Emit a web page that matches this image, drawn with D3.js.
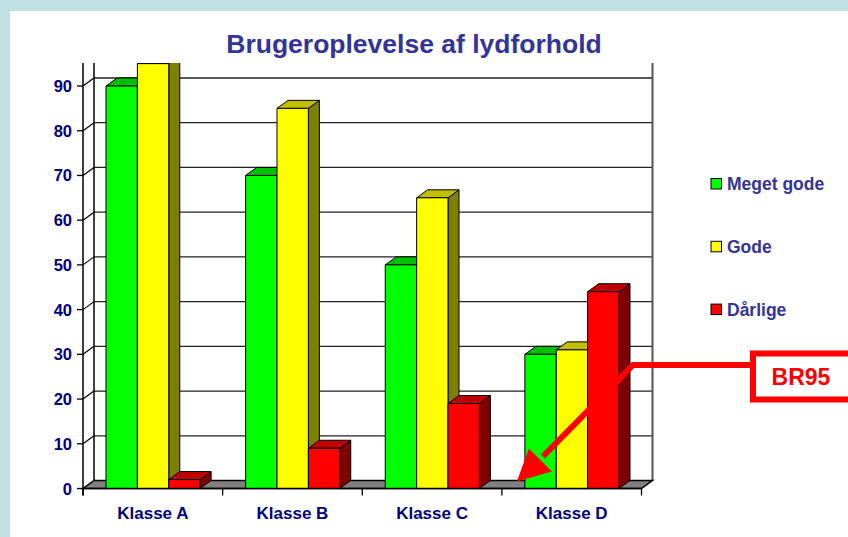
<!DOCTYPE html>
<html>
<head>
<meta charset="utf-8">
<script src="https://cdn.jsdelivr.net/npm/d3@7"></script>
<style>
  body { margin: 0; background: #bfe1e4; }
  svg { display: block; font-family: "Liberation Sans", Arial, sans-serif; font-weight: bold; }
</style>
</head>
<body>
<svg id="chart" width="848" height="537"></svg>
<script>
var classes = ["Klasse A", "Klasse B", "Klasse C", "Klasse D"];
var series = ["Meget gode", "Gode", "Dårlige"];
var megetGode = [90, 70, 50, 30];
var gode = [95, 85, 65, 31];
var daarlige = [2, 9, 19, 44];
var yTicks = [0, 10, 20, 30, 40, 50, 60, 70, 80, 90];

var colors = [
  {front: "#00ff00", top: "#00c000", side: "#008000"},
  {front: "#ffff00", top: "#c0c000", side: "#808000"},
  {front: "#ff0000", top: "#c00000", side: "#800000"}
];
var values = [megetGode, gode, daarlige];

var svg = d3.select("#chart"),
    plotTop = 63,
    depth = {dx: 11, dy: 8};

// white panel
svg.append("rect")
    .attr("x", 10).attr("y", 11)
    .attr("width", 848).attr("height", 537)
    .attr("fill", "#fff");

var y = d3.scaleLinear()
    .domain([0, 90])
    .range([488.5, 86]);

var x0 = d3.scaleBand()
    .domain(classes)
    .range([83, 641.5]);

var x1 = d3.scaleBand()
    .domain(series)
    .range([23, x0.bandwidth() - 22.5]);

var y0 = y(0), xl = x0.range()[0], xr = x0.range()[1];

svg.append("defs").append("clipPath")
    .attr("id", "plotClip")
  .append("rect")
    .attr("x", 0).attr("y", plotTop)
    .attr("width", 848).attr("height", 537 - plotTop);

var plot = svg.append("g").attr("clip-path", "url(#plotClip)");

// back wall grid
plot.selectAll(".grid")
  .data(yTicks.slice(1))
  .enter().append("line")
    .attr("x1", xl + depth.dx)
    .attr("x2", xr + depth.dx)
    .attr("y1", function(d) { return y(d) - depth.dy; })
    .attr("y2", function(d) { return y(d) - depth.dy; })
    .attr("stroke", "#222")
    .attr("stroke-width", 1.3);

// left wall diagonals
plot.selectAll(".diag")
  .data(yTicks.slice(1))
  .enter().append("line")
    .attr("x1", xl)
    .attr("x2", xl + depth.dx)
    .attr("y1", function(d) { return y(d); })
    .attr("y2", function(d) { return y(d) - depth.dy; })
    .attr("stroke", "#000")
    .attr("stroke-width", 1.2);

// wall edges
plot.append("line")
    .attr("x1", xl + depth.dx).attr("x2", xl + depth.dx)
    .attr("y1", 0).attr("y2", y0 - depth.dy)
    .attr("stroke", "#000").attr("stroke-width", 1.5);
plot.append("line")
    .attr("x1", xr + depth.dx).attr("x2", xr + depth.dx)
    .attr("y1", 0).attr("y2", y0 - depth.dy)
    .attr("stroke", "#555").attr("stroke-width", 2);

// floor
plot.append("polygon")
    .attr("points", [[xl, y0], [xr, y0], [xr + depth.dx, y0 - depth.dy], [xl + depth.dx, y0 - depth.dy]].join(" "))
    .attr("fill", "#808080")
    .attr("stroke", "#000")
    .attr("stroke-width", 1.5);

// bars, drawn left to right so each front face hides the previous side face
classes.forEach(function(c, i) {
  series.forEach(function(s, j) {
    var bx = x0(c) + x1(s), bw = x1.bandwidth(), by = y(values[j][i]);
    var g = plot.append("g")
        .attr("stroke", "#000")
        .attr("stroke-width", 1)
        .attr("stroke-linejoin", "round");
    g.append("polygon")
        .attr("points", [[bx + bw, by], [bx + bw + depth.dx, by - depth.dy], [bx + bw + depth.dx, y0 - depth.dy], [bx + bw, y0]].join(" "))
        .attr("fill", colors[j].side);
    g.append("polygon")
        .attr("points", [[bx, by], [bx + depth.dx, by - depth.dy], [bx + bw + depth.dx, by - depth.dy], [bx + bw, by]].join(" "))
        .attr("fill", colors[j].top);
    g.append("rect")
        .attr("x", bx).attr("y", by)
        .attr("width", bw).attr("height", y0 - by)
        .attr("fill", colors[j].front);
  });
});

// front y axis
svg.append("line")
    .attr("x1", xl).attr("x2", xl)
    .attr("y1", plotTop).attr("y2", y0 + 7)
    .attr("stroke", "#000").attr("stroke-width", 1.5);

svg.selectAll(".ytick")
  .data(yTicks)
  .enter().append("line")
    .attr("x1", xl - 6).attr("x2", xl)
    .attr("y1", function(d) { return y(d); })
    .attr("y2", function(d) { return y(d); })
    .attr("stroke", "#000").attr("stroke-width", 1.3);

svg.selectAll(".ylabel")
  .data(yTicks)
  .enter().append("text")
    .attr("x", 72)
    .attr("y", function(d) { return y(d) + 6; })
    .attr("text-anchor", "end")
    .attr("fill", "#000080")
    .attr("font-size", "16.5px")
    .text(function(d) { return d; });

// category axis
svg.append("line")
    .attr("x1", xl).attr("x2", xr)
    .attr("y1", y0).attr("y2", y0)
    .attr("stroke", "#000").attr("stroke-width", 1.5);

svg.selectAll(".xtick")
  .data(classes.map(function(c) { return x0(c); }).concat([xr]))
  .enter().append("line")
    .attr("x1", function(d) { return d; })
    .attr("x2", function(d) { return d; })
    .attr("y1", y0).attr("y2", y0 + 7)
    .attr("stroke", "#000").attr("stroke-width", 1.3);

svg.selectAll(".xlabel")
  .data(classes)
  .enter().append("text")
    .attr("x", function(d) { return x0(d) + x0.bandwidth() / 2; })
    .attr("y", 519)
    .attr("text-anchor", "middle")
    .attr("fill", "#000080")
    .attr("font-size", "17px")
    .text(function(d) { return d; });

// title
svg.append("text")
    .attr("x", 414)
    .attr("y", 53)
    .attr("text-anchor", "middle")
    .attr("fill", "#333399")
    .attr("font-size", "26.5px")
    .text("Brugeroplevelse af lydforhold");

// legend
var legend = svg.selectAll(".legend")
  .data(series)
  .enter().append("g")
    .attr("transform", function(d, i) { return "translate(711," + (178.5 + i * 62.8) + ")"; });

legend.append("rect")
    .attr("width", 10.5).attr("height", 10.5)
    .attr("fill", function(d, i) { return colors[i].front; })
    .attr("stroke", "#000").attr("stroke-width", 1);

legend.append("text")
    .attr("x", 16)
    .attr("y", 11.5)
    .attr("fill", "#333399")
    .attr("font-size", "17.5px")
    .text(function(d) { return d; });

// BR95 annotation
var tip = {x: x0("Klasse D") + 15, y: y0 - 7};
svg.append("polyline")
    .attr("points", [[750, 365], [633, 365], [tip.x + 26, tip.y - 25]].join(" "))
    .attr("fill", "none")
    .attr("stroke", "#ff0000")
    .attr("stroke-width", 6);

svg.append("polygon")
    .attr("points", [[tip.x, tip.y], [tip.x + 12, tip.y - 33], [tip.x + 35, tip.y - 10]].join(" "))
    .attr("fill", "#ff0000");

svg.append("rect")
    .attr("x", 753).attr("y", 353.5)
    .attr("width", 110).attr("height", 46)
    .attr("fill", "#fff")
    .attr("stroke", "#ff0000")
    .attr("stroke-width", 6);

svg.append("text")
    .attr("x", 801)
    .attr("y", 385)
    .attr("text-anchor", "middle")
    .attr("fill", "#ff0000")
    .attr("font-size", "23px")
    .text("BR95");
</script>
</body>
</html>
